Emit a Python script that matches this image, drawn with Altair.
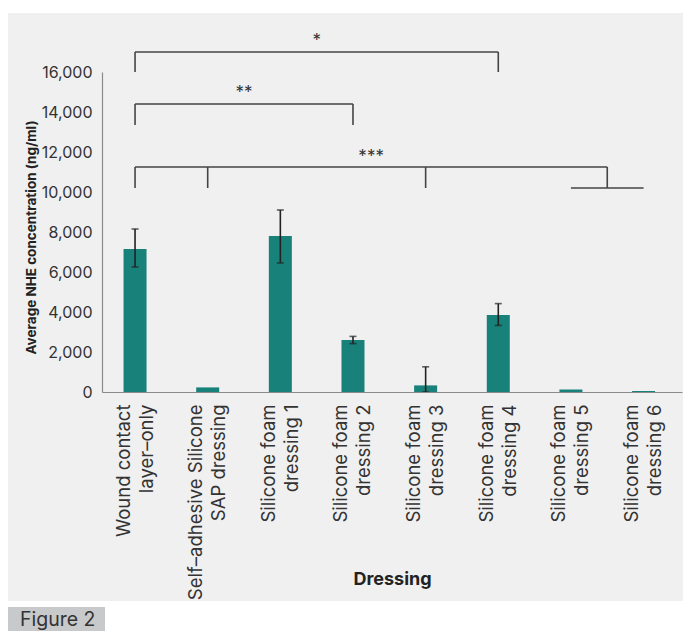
import altair as alt
import pandas as pd

# ---- data ----
dressings = [
    ["Wound contact", "layer–only"],
    ["Self–adhesive Silicone", "SAP dressing"],
    ["Silicone foam", "dressing 1"],
    ["Silicone foam", "dressing 2"],
    ["Silicone foam", "dressing 3"],
    ["Silicone foam", "dressing 4"],
    ["Silicone foam", "dressing 5"],
    ["Silicone foam", "dressing 6"],
]
nhe_mean = [7150, 230, 7800, 2600, 330, 3850, 125, 50]
err_low = [6250, None, 6450, 2420, 0, 3330, None, None]
err_high = [8150, None, 9100, 2780, 1260, 4420, None, None]

# significance brackets: (label, legs (dressing index), top level, leg bottom, label level)
bracket_labels = ["*", "**", "***"]
bracket_legs = [[0, 5], [0, 3], [0, 1, 4, 6.5]]
bracket_top = [17000, 14400, 11250]
bracket_bottom = [16000, 13350, 10200]
bracket_text_y = [17300, 14700, 11500]
# sub-bracket joining dressings 5 and 6 (index 6 and 7)
sub_from, sub_to, sub_level = 6, 7, 10200

FONT = "Inter"
TEAL = "#18817a"
PANEL = "#eff0ef"
DARK = "#333333"

idx = list(range(len(dressings)))
bars = pd.DataFrame({"i": idx, "v": nhe_mean})
errs = pd.DataFrame({"i": idx, "lo": err_low, "hi": err_high}).dropna()

seg_rows = []
txt_rows = []
for lab, legs, top, bot, ty in zip(bracket_labels, bracket_legs, bracket_top, bracket_bottom, bracket_text_y):
    seg_rows.append({"x": min(legs), "x2": max(legs), "y": top, "y2": top})
    for l in legs:
        seg_rows.append({"x": l, "x2": l, "y": top, "y2": bot})
    txt_rows.append({"x": (min(legs) + max(legs)) / 2, "y": ty, "t": lab})
seg_rows.append({"x": sub_from, "x2": sub_to, "y": sub_level, "y2": sub_level})
segs = pd.DataFrame(seg_rows)
txts = pd.DataFrame(txt_rows)

xscale = alt.Scale(domain=[-0.386, 7.46], nice=False, zero=False)
yscale = alt.Scale(domain=[0, 16000], nice=False)

label_arr = "[" + ",".join("[" + ",".join("'" + s + "'" for s in d) + "]" for d in dressings) + "]"

xaxis = alt.Axis(values=idx, labelExpr=label_arr + "[datum.value]",
                 labelAngle=270, labelAlign="right", labelBaseline="middle",
                 labelLineHeight=23, labelPadding=12, labelFontSize=18.5, labelOffset=-12,
                 labelFont=FONT, labelColor=DARK, labelLimit=0,
                 labelOverlap=False, labelBound=False, labelFlush=False,
                 ticks=False, grid=False, domainColor="#8a8a8a", domainWidth=1.2,
                 titleFont=FONT, titleFontSize=18, titleFontWeight="bold",
                 titleColor="#222222", titleX=290, titleY=187,
                 titleBaseline="middle", titleAlign="center", zindex=1)
yaxis = alt.Axis(values=list(range(0, 16001, 2000)), format=",d",
                 labelFontSize=16, labelFont=FONT, labelColor=DARK, labelPadding=10,
                 ticks=False, grid=False, domainColor="#8a8a8a", domainWidth=1.2,
                 titleFont=FONT, titleFontSize=13.5, titleFontWeight="bold",
                 titleColor="#222222", titleAngle=270, titleX=-71, titleY=165,
                 titleAlign="center", titleBaseline="middle", zindex=1)
XT = "Dressing"
YT = "Average NHE concentration (ng/ml)"


def X(f):
    return alt.X(f, scale=xscale, axis=xaxis, title=XT)


def Y(f):
    return alt.Y(f, scale=yscale, axis=yaxis, title=YT)


dummy = pd.DataFrame({"a": [0]})
panel = alt.Chart(dummy).mark_rect(color=PANEL).encode(
    x=alt.value(-94), x2=alt.value(581), y=alt.value(-59), y2=alt.value(529)
)
figbox = alt.Chart(dummy).mark_rect(color="#c8c9ca").encode(
    x=alt.value(-94), x2=alt.value(3), y=alt.value(535), y2=alt.value(559)
)
figtext = alt.Chart(dummy).mark_text(
    text="Figure 2", font=FONT, fontSize=19.5, color=DARK, align="left", baseline="middle"
).encode(x=alt.value(-82), y=alt.value(548))

bar_layer = alt.Chart(bars).mark_bar(size=23, color=TEAL).encode(x=X("i:Q"), y=Y("v:Q"))

err_rule = alt.Chart(errs).mark_rule(color="#222222", strokeWidth=1.6).encode(
    x=X("i:Q"), y=Y("lo:Q"), y2="hi:Q",
)
cap_hi = alt.Chart(errs).mark_tick(color="#222222", orient="horizontal", size=7, thickness=1.6).encode(
    x=X("i:Q"), y=Y("hi:Q")
)
cap_lo = alt.Chart(errs).mark_tick(color="#222222", orient="horizontal", size=7, thickness=1.6).encode(
    x=X("i:Q"), y=Y("lo:Q")
)

seg_layer = alt.Chart(segs).mark_rule(color="#444444", strokeWidth=1.6).encode(
    x=X("x:Q"), x2="x2:Q", y=Y("y:Q"), y2="y2:Q",
)
txt_layer = alt.Chart(txts).mark_text(font=FONT, fontSize=17, color=DARK, baseline="alphabetic").encode(
    x=X("x:Q"), y=Y("y:Q"), text="t:N",
)

chart = alt.layer(
    panel, figbox, figtext, bar_layer, err_rule, cap_hi, cap_lo, seg_layer, txt_layer
).properties(
    width=580, height=320,
    autosize=alt.AutoSizeParams(type="none"),
    padding={"left": 94, "top": 64, "right": 1, "bottom": 239},
    background="white",
).configure_view(stroke=None)

chart.save("out.html", embed_options={"renderer": "svg", "actions": False})
